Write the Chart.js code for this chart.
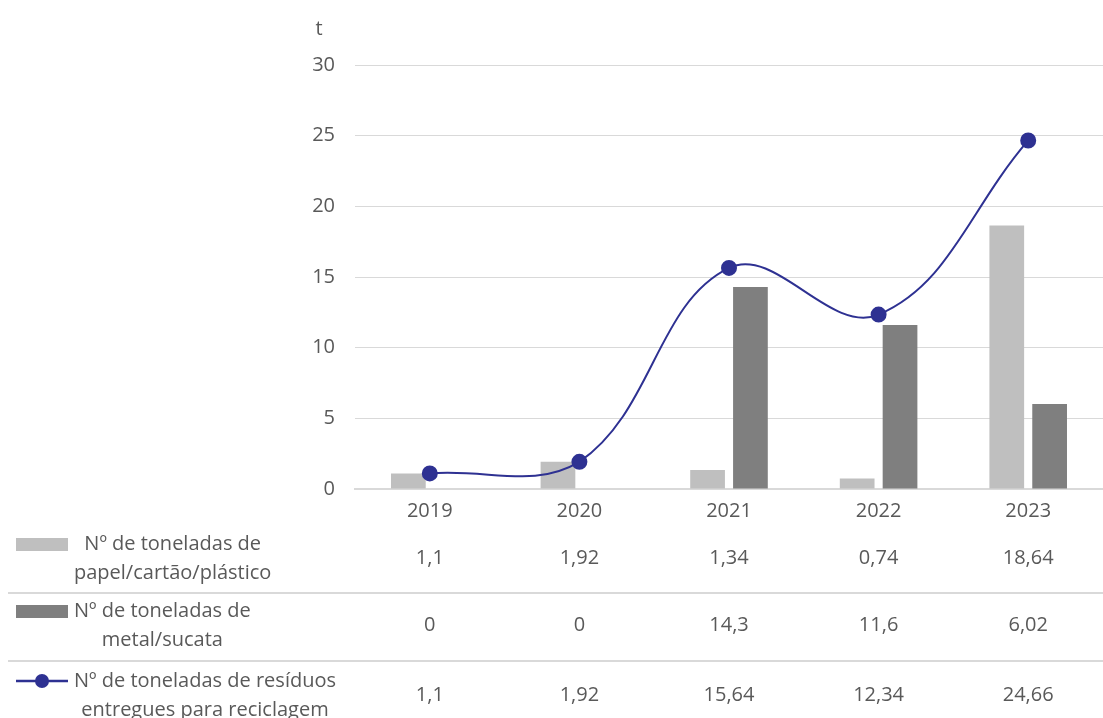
<!DOCTYPE html>
<html>
<head>
<meta charset="utf-8">
<script src="https://cdn.jsdelivr.net/npm/chart.js@4"></script>
<style>
  html, body { margin: 0; padding: 0; background: #fff; }
  #wrap { width: 1103px; height: 718px; }
</style>
</head>
<body>
<div id="wrap"><canvas id="reciclagemChart" width="1103" height="718"></canvas></div>
<script>
const years = ['2019', '2020', '2021', '2022', '2023'];
const papel = [1.1, 1.92, 1.34, 0.74, 18.64];
const metal = [0, 0, 14.3, 11.6, 6.02];
const total = [1.1, 1.92, 15.64, 12.34, 24.66];
const yTicks = [0, 5, 10, 15, 20, 25, 30];

const papelLabel = ['Nº de toneladas de', 'papel/cartão/plástico'];
const metalLabel = ['Nº de toneladas de', 'metal/sucata'];
const totalLabel = ['Nº de toneladas de resíduos', 'entregues para reciclagem'];

const FONT = '"Open Sans", sans-serif';
const TEXT = '#595959';
const GRID = '#d9d9d9';
const LIGHT = '#bfbfbf';
const DARK = '#7f7f7f';
const BLUE = '#2e3192';

const fmt = v => String(v).replace('.', ',');

// draws the "t" unit and the data table under the x axis
const tablePlugin = {
    id: 'dataTable',
    afterDraw(chart) {
        const ctx = chart.ctx;
        const x = chart.scales.x;
        ctx.save();
        ctx.fillStyle = TEXT;
        ctx.font = '20px ' + FONT;
        ctx.textAlign = 'center';
        ctx.textBaseline = 'middle';
        ctx.fillText('t', 319, 29);

        const rows = [
            { lines: papelLabel, values: papel, key: 'bar', color: LIGHT, top: 528 },
            { lines: metalLabel, values: metal, key: 'bar', color: DARK, top: 595 },
            { lines: totalLabel, values: total, key: 'line', color: BLUE, top: 665 }
        ];

        // separators
        ctx.strokeStyle = GRID;
        ctx.lineWidth = 2;
        [593, 661].forEach(ly => {
            ctx.beginPath();
            ctx.moveTo(8, ly);
            ctx.lineTo(chart.width, ly);
            ctx.stroke();
        });

        rows.forEach(row => {
            const l1 = row.top + 16, l2 = row.top + 45;
            const mid = (l1 + l2) / 2;
            // legend key
            if (row.key === 'bar') {
                ctx.fillStyle = row.color;
                ctx.fillRect(16, l1 - 6, 52, 13);
            } else {
                ctx.strokeStyle = row.color;
                ctx.lineWidth = 2.5;
                ctx.beginPath();
                ctx.moveTo(16, l1);
                ctx.lineTo(68, l1);
                ctx.stroke();
                ctx.fillStyle = row.color;
                ctx.beginPath();
                ctx.arc(42, l1, 7, 0, Math.PI * 2);
                ctx.fill();
            }
            // label
            ctx.fillStyle = TEXT;
            const w = Math.max(...row.lines.map(s => ctx.measureText(s).width));
            const cx = 74 + w / 2;
            ctx.fillText(row.lines[0], cx, l1);
            ctx.fillText(row.lines[1], cx, l2);
            // values
            row.values.forEach((v, i) => {
                ctx.fillText(fmt(v), x.getPixelForValue(i), mid);
            });
        });
        ctx.restore();
    }
};

new Chart(document.getElementById('reciclagemChart').getContext('2d'), {
    data: {
        labels: years,
        datasets: [
            {
                type: 'line',
                label: totalLabel.join(' '),
                data: total,
                borderColor: BLUE,
                backgroundColor: BLUE,
                borderWidth: 2,
                pointRadius: 7,
                pointHoverRadius: 7,
                tension: 0.4,
                order: 0
            },
            {
                type: 'bar',
                label: papelLabel.join(' '),
                data: papel,
                backgroundColor: LIGHT,
                categoryPercentage: 0.573,
                barPercentage: 0.81,
                order: 1
            },
            {
                type: 'bar',
                label: metalLabel.join(' '),
                data: metal,
                backgroundColor: DARK,
                categoryPercentage: 0.573,
                barPercentage: 0.81,
                order: 1
            }
        ]
    },
    options: {
        responsive: false,
        animation: false,
        layout: { autoPadding: false, padding: { top: 65, right: 0, bottom: 199, left: 0 } },
        plugins: {
            legend: { display: false },
            tooltip: { enabled: false }
        },
        scales: {
            x: {
                grid: { display: false },
                border: { display: true, color: GRID, width: 2 },
                ticks: { color: TEXT, font: { family: FONT, size: 20 }, padding: 2 },
                afterFit: s => { s.height = 30; }
            },
            y: {
                min: 0,
                max: 30,
                afterBuildTicks: s => { s.ticks = yTicks.map(v => ({ value: v })); },
                grid: { color: GRID, lineWidth: 1, drawTicks: false },
                border: { display: false },
                ticks: { color: TEXT, font: { family: FONT, size: 20 }, padding: 20 },
                afterFit: s => { s.width = 355; }
            }
        }
    },
    plugins: [tablePlugin]
});
</script>
</body>
</html>
